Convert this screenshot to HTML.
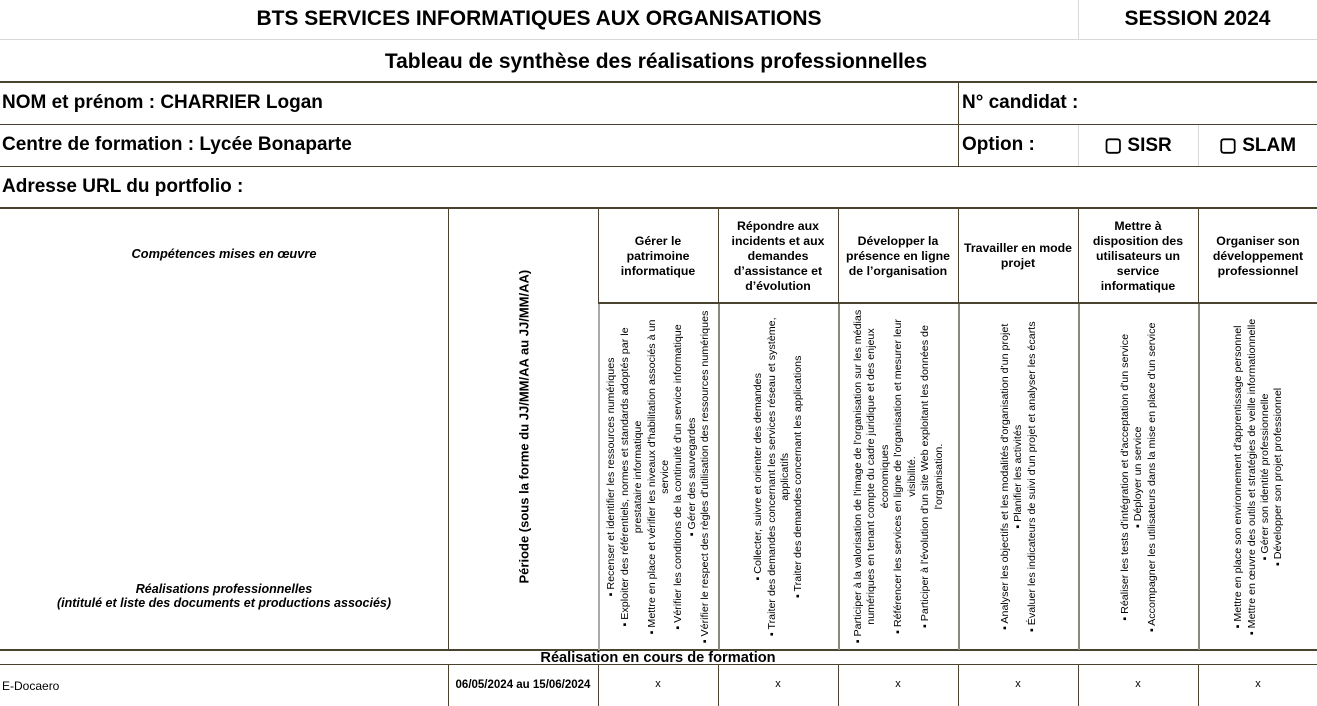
<!DOCTYPE html>
<html><head><meta charset="utf-8">
<style>
body{margin:0;width:1317px;height:706px;overflow:hidden;background:#fff;font-family:"Liberation Sans",Arial,sans-serif;color:#000;position:relative}
.a{position:absolute}
.h{position:absolute;background:#4a4330}
.g{position:absolute;background:#d8d8d8}
.gv{position:absolute;background:#8a8a80}
.t{position:absolute;font-weight:bold;white-space:nowrap}
.c{position:absolute;display:flex;align-items:center;justify-content:center;text-align:center}
.rot{position:absolute;display:flex;align-items:center;justify-content:center;text-align:center;transform-origin:center;font-size:10.5px;line-height:13.4px}
.rot span{display:block;transform:scaleX(1.02);white-space:nowrap}
.hd{font-weight:bold;font-size:12.3px;line-height:15px}
</style></head><body>
<div class="g" style="left:0;top:39px;width:1317px;height:1px"></div>
<div class="g" style="left:1078px;top:0;width:1px;height:39px"></div>
<div class="h" style="left:0;top:81px;width:1317px;height:2px"></div>
<div class="h" style="left:0;top:124px;width:1317px;height:1px"></div>
<div class="h" style="left:0;top:166px;width:1317px;height:1px"></div>
<div class="h" style="left:0;top:207px;width:1317px;height:2px"></div>
<div class="h" style="left:958px;top:82px;width:1px;height:85px"></div>
<div class="g" style="left:1078px;top:125px;width:1px;height:41px"></div>
<div class="g" style="left:1198px;top:125px;width:1px;height:41px"></div>
<div class="h" style="left:598px;top:302px;width:719px;height:2px"></div>
<div class="h" style="left:0;top:649px;width:1317px;height:2px"></div>
<div class="h" style="left:0;top:664px;width:1317px;height:1px"></div>
<div class="h" style="left:448px;top:208px;width:1px;height:442px"></div>
<div class="h" style="left:448px;top:665px;width:1px;height:41px"></div>
<div id="vl"></div>

<div class="t" style="left:0;top:7px;width:1078px;text-align:center;font-size:21px">BTS SERVICES INFORMATIQUES AUX ORGANISATIONS</div>
<div class="t" style="left:1078px;top:7px;width:239px;text-align:center;font-size:21px">SESSION 2024</div>
<div class="t" style="left:0;top:50px;width:1312px;text-align:center;font-size:21px">Tableau de synthèse des réalisations professionnelles</div>
<div class="t" style="left:2px;top:92px;font-size:19px">NOM et prénom : CHARRIER Logan</div>
<div class="t" style="left:962px;top:92px;font-size:19px">N° candidat :</div>
<div class="t" style="left:2px;top:134px;font-size:19px">Centre de formation : Lycée Bonaparte</div>
<div class="t" style="left:962px;top:134px;font-size:19px">Option :</div>
<div class="t" style="left:1078px;top:134px;width:120px;text-align:center;font-size:19px">▢ SISR</div>
<div class="t" style="left:1198px;top:134px;width:119px;text-align:center;font-size:19px">▢ SLAM</div>
<div class="t" style="left:2px;top:176px;font-size:19px">Adresse URL du portfolio :</div>

<div class="t" style="left:0;top:246px;width:448px;text-align:center;font-size:12.8px;font-style:italic">Compétences mises en œuvre</div>
<div class="c" style="left:0;top:582px;width:448px;font-size:12.5px;font-weight:bold;font-style:italic;line-height:14px">Réalisations professionnelles<br>(intitulé et liste des documents et productions associés)</div>
<div class="t" style="left:369px;top:421px;width:310px;text-align:center;font-size:13px;transform:rotate(-90deg)">Période (sous la forme du JJ/MM/AA au JJ/MM/AA)</div>

<div id="cols"></div>

<div class="t" style="left:448px;top:650px;width:420px;text-align:center;font-size:14.6px">Réalisation en cours de formation</div>
<div class="a" style="left:2px;top:679px;font-size:12px">E-Docaero</div>
<div class="t" style="left:448px;top:679px;width:150px;text-align:center;font-size:11.5px">06/05/2024 au 15/06/2024</div>

<script>
const heads=["Gérer le<br>patrimoine<br>informatique","Répondre aux<br>incidents et aux<br>demandes<br>d’assistance et<br>d’évolution","Développer la<br>présence en ligne<br>de l’organisation","Travailler en mode<br>projet","Mettre à<br>disposition des<br>utilisateurs un<br>service<br>informatique","Organiser son<br>développement<br>professionnel"];
const items=[
["▪ Recenser et identifier les ressources numériques","▪ Exploiter des référentiels, normes et standards adoptés par le","prestataire informatique","▪ Mettre en place et vérifier les niveaux d'habilitation associés à un","service","▪ Vérifier les conditions de la continuité d'un service informatique","▪ Gérer des sauvegardes","▪ Vérifier le respect des règles d'utilisation des ressources numériques"],
["▪ Collecter, suivre et orienter des demandes","▪ Traiter des demandes concernant les services réseau et système,","applicatifs","▪ Traiter des demandes concernant les applications"],
["▪ Participer à la valorisation de l'image de l'organisation sur les médias","numériques en tenant compte du cadre juridique et des enjeux","économiques","▪ Référencer les services en ligne de l'organisation et mesurer leur","visibilité.","▪ Participer à l'évolution d'un site Web exploitant les données de","l'organisation."],
["▪ Analyser les objectifs et les modalités d'organisation d'un projet","▪ Planifier les activités","▪ Évaluer les indicateurs de suivi d'un projet et analyser les écarts"],
["▪ Réaliser les tests d'intégration et d'acceptation d'un service","▪ Déployer un service","▪ Accompagner les utilisateurs dans la mise en place d'un service"],
["▪ Mettre en place son environnement d'apprentissage personnel","▪ Mettre en œuvre des outils et stratégies de veille informationnelle","▪ Gérer son identité professionnelle","▪ Développer son projet professionnel"]];
const marks=["x","x","x","x","x","x"];
const cols=document.getElementById('cols');
const vl=document.getElementById('vl');
const X0=598,W=120;
for(let i=0;i<7;i++){
  const x=X0+i*W;
  const d=document.createElement('div');
  
  
  d.className='h';d.style.cssText=`left:${x}px;top:208px;width:1px;height:95px`;
  vl.appendChild(d);
  const e=document.createElement('div');
  
  
  e.className='gv';e.style.cssText=`left:${x}px;top:304px;width:2px;height:346px;background:${i==0?'#aaa':'#8a8a80'}`;
  vl.appendChild(e);
  const f=document.createElement('div');
  
  
  f.className='h';f.style.cssText=`left:${x}px;top:665px;width:1px;height:41px`;
  vl.appendChild(f);
}
heads.forEach((h,i)=>{
  const x=X0+i*W;
  const d=document.createElement('div');
  
  
  d.className='c hd';d.style.cssText=`left:${x}px;top:209px;width:${W}px;height:94px`;
  d.innerHTML=h;cols.appendChild(d);
  const r=document.createElement('div');
  
  
  const H=346;
  r.className='rot';
  r.style.cssText=`left:${x+W/2-H/2+1}px;top:${304+H/2-W/2}px;width:${H}px;height:${W}px;transform:rotate(-90deg)`;
  const s=document.createElement('span');
  s.innerHTML=items[i].join('<br>');
  r.appendChild(s);cols.appendChild(r);
  const m=document.createElement('div');
  
  
  m.className='a';m.style.cssText=`left:${x}px;top:678px;width:${W}px;text-align:center;font-size:11px`;
  m.textContent=marks[i];cols.appendChild(m);
});
</script>
</body></html>
